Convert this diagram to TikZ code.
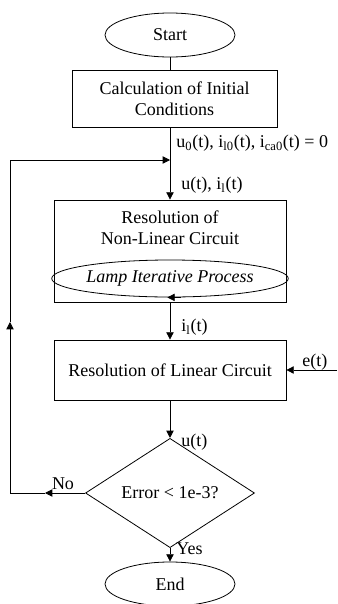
\documentclass[tikz,border=0pt]{standalone}
\usepackage{fontspec}
\setmainfont{Liberation Serif}
\usetikzlibrary{arrows.meta,shapes.geometric,positioning}

\begin{document}
\begin{tikzpicture}[x=0.75pt, y=-0.75pt, >={Triangle[length=5.5pt,width=5.5pt]},
  font=\fontsize{13.5}{15.8}\selectfont, line width=0.6pt,
  terminal/.style={draw, ellipse, minimum width=97.5pt, minimum height=33pt, inner sep=0pt},
  procbox/.style={draw, rectangle, minimum width=174pt, inner sep=0pt, align=center},
  flow/.style={->},
  lbl/.style={anchor=west, inner sep=0pt}]
  \useasboundingbox (0,0) rectangle (337,604);

  % --- Bloques principales ---
  \node[terminal] (start) at (170,35) {Start};
  \node[procbox, minimum width=153.75pt, minimum height=42.75pt] (calc) at (174.5,98.5)
    {Calculation of Initial\\Conditions};
  \node[procbox, minimum height=76.5pt] (nonlin) at (170,251) {};
  \node[align=center, inner sep=0pt] (nltitle) at (170,228) {Resolution of\\Non-Linear Circuit};
  \node[draw, ellipse, minimum width=155pt, minimum height=27.75pt, inner sep=0pt,
    font=\fontsize{13.5}{15.8}\selectfont\itshape] (lamp) at (170,278.5) {Lamp Iterative Process};
  \node[procbox, minimum height=45pt] (lincirc) at (170,370) {Resolution of Linear Circuit};
  \node[draw, diamond, minimum width=126.75pt, minimum height=62.25pt, inner sep=0pt] (dec) at (170,493)
    {Error < 1e-3?};
  \node[terminal] (stop) at (170,584) {End};

  % --- Etiquetas ---
  \node[lbl] (initlbl) at (176,143) {u\textsubscript{0}(t), i\textsubscript{l0}(t), i\textsubscript{ca0}(t) = 0};
  \node[lbl] (ulbl) at (181,185) {u(t), i\textsubscript{l}(t)};
  \node[lbl] (illbl) at (181,327) {i\textsubscript{l}(t)};
  \node[lbl] (elbl) at (302,362) {e(t)};
  \node[lbl] (u2lbl) at (181,442) {u(t)};
  \node[inner sep=0pt] (nolbl) at (63,484) {No};
  \node[lbl] (yeslbl) at (176,549) {Yes};

  % Puntos del lazo de realimentación
  \coordinate (join) at (170,160);
  \coordinate (notip) at (45,493);
  \coordinate (nocorner) at (10,493);
  \coordinate (uptip) at (10,322);
  \coordinate (backcorner) at (10,160);
  \coordinate (ein) at (337,370);

  % --- Conectores ---
  \draw (start.south) -- (start.south |- calc.north);
  \draw[flow] (start.south |- calc.south) -- (nonlin.north);
  \draw[flow] ([xshift=8pt]lamp.south) -- ([xshift=-2pt]lamp.south);
  \draw[flow] (nonlin.south) -- (lincirc.north);
  \draw[flow] (ein) -- (lincirc.east);
  \draw[flow] (lincirc.south) -- (dec.north);
  \draw[flow] (dec.south) -- (stop.north);
  \draw[flow] (dec.west) -- (notip);
  \draw (notip) -- (nocorner);
  \draw[flow] (nocorner) -- (uptip);
  \draw[flow] (uptip) -- (backcorner) -- (join);
\end{tikzpicture}
\end{document}
